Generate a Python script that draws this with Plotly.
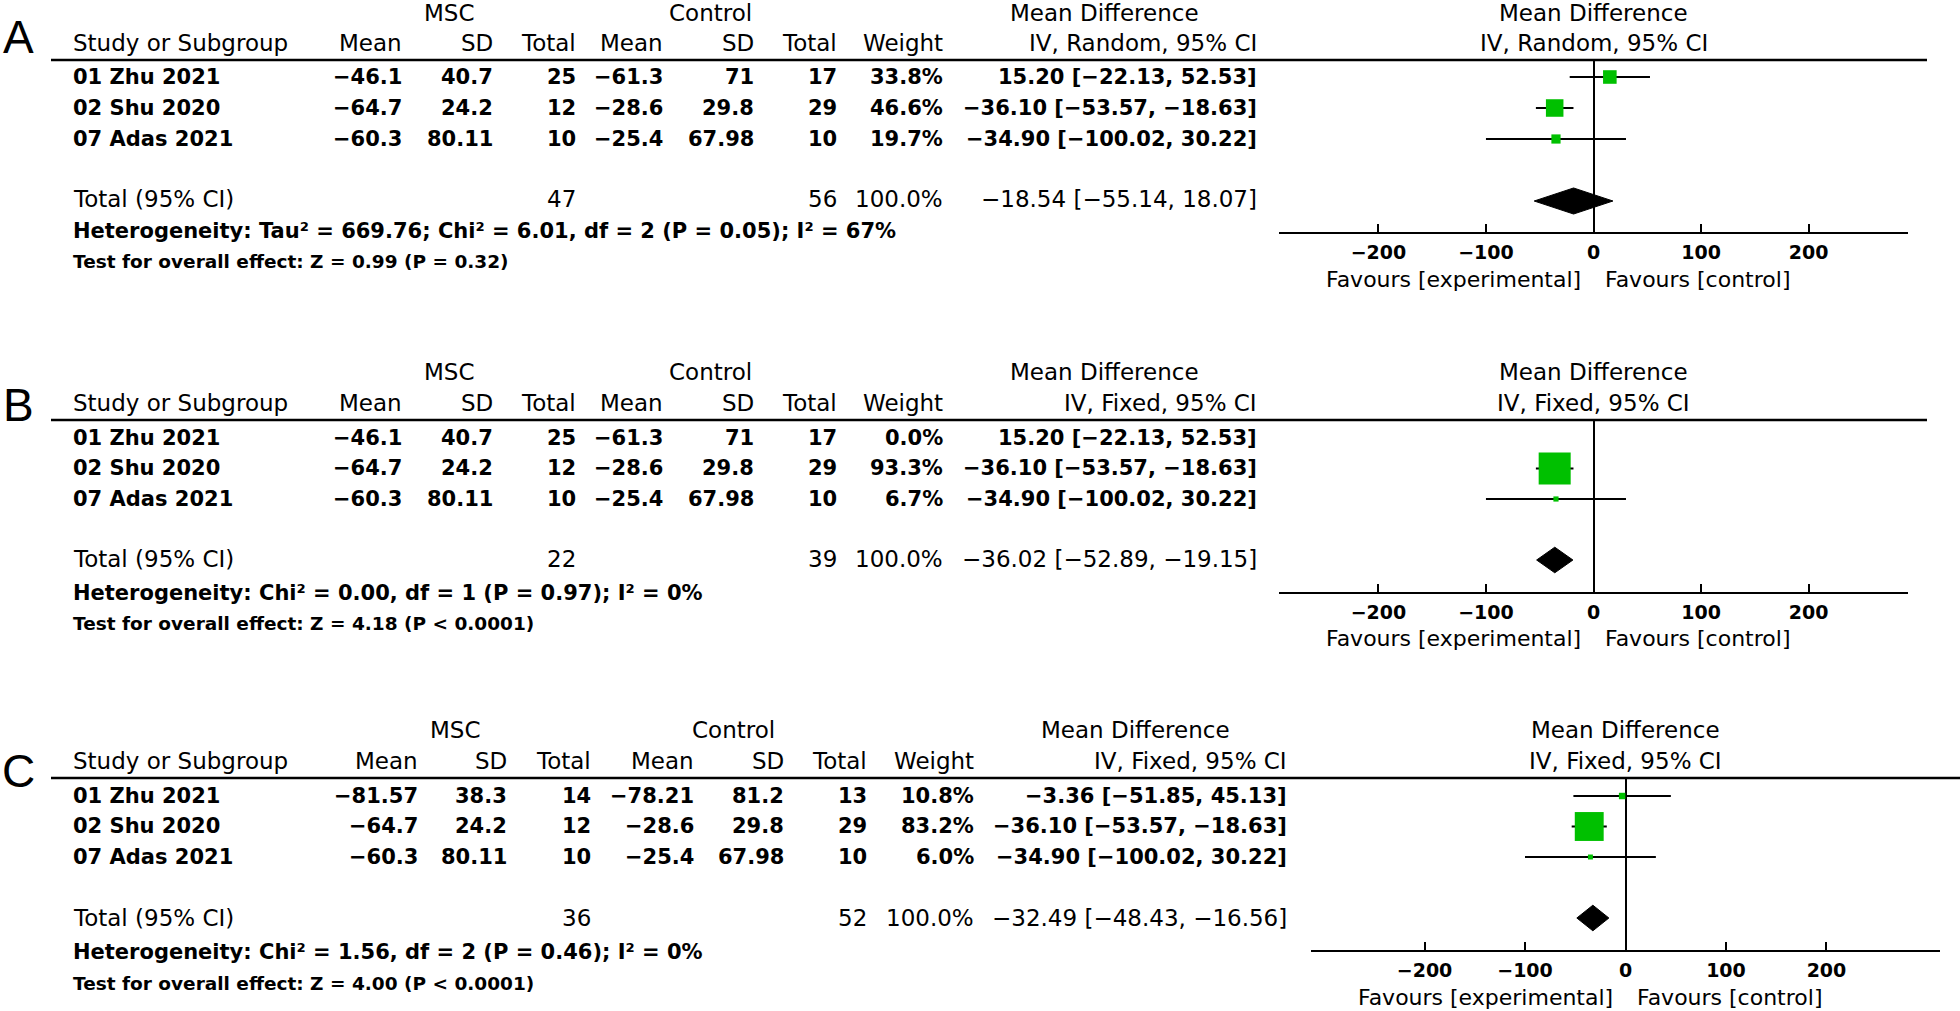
import plotly.graph_objects as go

W, H = 1960, 1011
FONT = "DejaVu Sans"
GREEN = "#00c000"

# ---------------- data ----------------
studies = ["01 Zhu 2021", "02 Shu 2020", "07 Adas 2021"]

# Panel A  (IV, Random)
A_msc_mean = [-46.1, -64.7, -60.3]
A_msc_sd = [40.7, 24.2, 80.11]
A_msc_n = [25, 12, 10]
A_ctl_mean = [-61.3, -28.6, -25.4]
A_ctl_sd = [71, 29.8, 67.98]
A_ctl_n = [17, 29, 10]
A_weight = [33.8, 46.6, 19.7]
A_md = [15.20, -36.10, -34.90]
A_lo = [-22.13, -53.57, -100.02]
A_hi = [52.53, -18.63, 30.22]
A_total_n = [47, 56]
A_total_ci = [-18.54, -55.14, 18.07]
A_het = "Heterogeneity: Tau² = 669.76; Chi² = 6.01, df = 2 (P = 0.05); I² = 67%"
A_test = "Test for overall effect: Z = 0.99 (P = 0.32)"

# Panel B  (IV, Fixed)
B_msc_mean = [-46.1, -64.7, -60.3]
B_msc_sd = [40.7, 24.2, 80.11]
B_msc_n = [25, 12, 10]
B_ctl_mean = [-61.3, -28.6, -25.4]
B_ctl_sd = [71, 29.8, 67.98]
B_ctl_n = [17, 29, 10]
B_weight = [0.0, 93.3, 6.7]
B_md = [15.20, -36.10, -34.90]
B_lo = [-22.13, -53.57, -100.02]
B_hi = [52.53, -18.63, 30.22]
B_total_n = [22, 39]
B_total_ci = [-36.02, -52.89, -19.15]
B_het = "Heterogeneity: Chi² = 0.00, df = 1 (P = 0.97); I² = 0%"
B_test = "Test for overall effect: Z = 4.18 (P < 0.0001)"

# Panel C  (IV, Fixed)
C_msc_mean = [-81.57, -64.7, -60.3]
C_msc_sd = [38.3, 24.2, 80.11]
C_msc_n = [14, 12, 10]
C_ctl_mean = [-78.21, -28.6, -25.4]
C_ctl_sd = [81.2, 29.8, 67.98]
C_ctl_n = [13, 29, 10]
C_weight = [10.8, 83.2, 6.0]
C_md = [-3.36, -36.10, -34.90]
C_lo = [-51.85, -53.57, -100.02]
C_hi = [45.13, -18.63, 30.22]
C_total_n = [36, 52]
C_total_ci = [-32.49, -48.43, -16.56]
C_het = "Heterogeneity: Chi² = 1.56, df = 2 (P = 0.46); I² = 0%"
C_test = "Test for overall effect: Z = 4.00 (P < 0.0001)"

tick_vals = [-200, -100, 0, 100, 200]

panels = [
    dict(letter="A", model="IV, Random, 95% CI",
         msc_mean=A_msc_mean, msc_sd=A_msc_sd, msc_n=A_msc_n,
         ctl_mean=A_ctl_mean, ctl_sd=A_ctl_sd, ctl_n=A_ctl_n,
         weight=A_weight, md=A_md, lo=A_lo, hi=A_hi,
         total_n=A_total_n, total_ci=A_total_ci, het=A_het, test=A_test),
    dict(letter="B", model="IV, Fixed, 95% CI",
         msc_mean=B_msc_mean, msc_sd=B_msc_sd, msc_n=B_msc_n,
         ctl_mean=B_ctl_mean, ctl_sd=B_ctl_sd, ctl_n=B_ctl_n,
         weight=B_weight, md=B_md, lo=B_lo, hi=B_hi,
         total_n=B_total_n, total_ci=B_total_ci, het=B_het, test=B_test),
    dict(letter="C", model="IV, Fixed, 95% CI",
         msc_mean=C_msc_mean, msc_sd=C_msc_sd, msc_n=C_msc_n,
         ctl_mean=C_ctl_mean, ctl_sd=C_ctl_sd, ctl_n=C_ctl_n,
         weight=C_weight, md=C_md, lo=C_lo, hi=C_hi,
         total_n=C_total_n, total_ci=C_total_ci, het=C_het, test=C_test),
]

# ---------------- layout geometry (page pixels) ----------------
geoms = [
    dict(letter_y=37, grp=13, sub=43, top=60, rows=[77, 108, 139], total=199, het=231, test=262,
         axis=232, fav=279, xd=(1279, 1908), xr=292.5, line_end=1927,
         cols=[404, 495, 578, 665, 756, 839, 945, 1259], grp_x=[449, 710, 1104]),
    dict(letter_y=405, grp=372, sub=403, top=420, rows=[438, 468, 499], total=559, het=593, test=623,
         axis=592, fav=638, xd=(1279, 1908), xr=292.5, line_end=1927,
         cols=[404, 495, 578, 665, 756, 839, 945, 1259], grp_x=[449, 710, 1104]),
    dict(letter_y=771, grp=730, sub=761, top=778, rows=[796, 826, 857], total=918, het=952, test=983,
         axis=950, fav=997, xd=(1311, 1940), xr=313, line_end=1960,
         cols=[420, 509, 593, 696, 786, 869, 976, 1289], grp_x=[455, 733, 1135]),
]

LEFT = 71
REG = dict(family=FONT, size=23, color="black")
FAV = dict(family=FONT, size=22, color="black")
BOLD = dict(family=FONT, size=21, color="black", weight="bold")
HET = dict(family=FONT, size=21, color="black", weight="bold")
TEST = dict(family=FONT, size=18.5, color="black", weight="bold")


def px(x):
    return x / W


def py(y):
    return 1 - y / H


def num(v):
    return f"{v:g}".replace("-", "\u2212")


def ci(m, l, h):
    return f"{m:.2f} [{l:.2f}, {h:.2f}]".replace("-", "\u2212")


def ann(text, x, y, xanchor, font, xref="paper", xshift=0):
    return dict(text=text, x=(px(x) if xref == "paper" else x), y=py(y),
                xref=xref, yref="paper", xanchor=xanchor, yanchor="middle",
                showarrow=False, font=font, xshift=xshift)


fig = go.Figure()
annotations = []
shapes = []
layout_axes = {}

for k, (p, g) in enumerate(zip(panels, geoms), start=1):
    xa = "x" if k == 1 else f"x{k}"
    ya = "y" if k == 1 else f"y{k}"
    unit = (g["rows"][2] - g["rows"][0]) / 2
    y_top = 1 - (g["rows"][0] - g["top"]) / unit
    y_bot = 1 + (g["axis"] - g["rows"][0]) / unit
    row_idx = [1, 2, 3]
    total_idx = 5

    # study squares + CI lines (zero-weight studies are not drawn)
    xs, ys, sz, ep, em = [], [], [], [], []
    for i in range(len(studies)):
        if p["weight"][i] <= 0:
            continue
        xs.append(p["md"][i])
        ys.append(row_idx[i])
        sz.append(3.1 + 0.31 * p["weight"][i])
        ep.append(p["hi"][i] - p["md"][i])
        em.append(p["md"][i] - p["lo"][i])
    fig.add_trace(go.Scatter(
        x=xs, y=ys, mode="markers", xaxis=xa, yaxis=ya, showlegend=False,
        marker=dict(symbol="square", size=sz, color=GREEN, opacity=1, line=dict(width=0)),
        error_x=dict(type="data", symmetric=False, array=ep, arrayminus=em,
                     width=0, thickness=2, color="black"),
        hoverinfo="skip"))

    # pooled diamond
    est, lo, hi = p["total_ci"]
    h = 0.42
    fig.add_trace(go.Scatter(
        x=[lo, est, hi, est, lo], y=[total_idx, total_idx - h, total_idx, total_idx + h, total_idx],
        mode="lines", fill="toself", fillcolor="black", line=dict(color="black", width=1),
        xaxis=xa, yaxis=ya, showlegend=False, hoverinfo="skip"))

    layout_axes["xaxis" if k == 1 else f"xaxis{k}"] = dict(
        domain=[px(g["xd"][0]), px(g["xd"][1])], range=[-g["xr"], g["xr"]], anchor=ya,
        tickmode="array", tickvals=tick_vals, ticks="inside", ticklen=8, tickwidth=2,
        tickcolor="black", showline=True, linewidth=2, linecolor="black",
        zeroline=True, zerolinecolor="black", zerolinewidth=2, showgrid=False,
        ticklabelstandoff=2,
        tickfont=dict(family=FONT, size=19, color="black", weight="bold"), fixedrange=True)
    layout_axes["yaxis" if k == 1 else f"yaxis{k}"] = dict(
        domain=[py(g["axis"]), py(g["top"])], range=[y_bot, y_top], anchor=xa,
        visible=False, fixedrange=True)

    # panel letter
    annotations.append(ann(p["letter"], 18, g["letter_y"], "center",
                           dict(family="Liberation Sans", size=46, color="black")))
    # group headers
    annotations.append(ann("MSC", g["grp_x"][0], g["grp"], "center", REG))
    annotations.append(ann("Control", g["grp_x"][1], g["grp"], "center", REG))
    annotations.append(ann("Mean Difference", g["grp_x"][2], g["grp"], "center", REG))
    annotations.append(ann("Mean Difference", 0, g["grp"], "center", REG, xref=xa))
    # column headers
    annotations.append(ann("Study or Subgroup", LEFT, g["sub"], "left", REG))
    for txt, cx in zip(["Mean", "SD", "Total", "Mean", "SD", "Total", "Weight", p["model"]], g["cols"]):
        annotations.append(ann(txt, cx, g["sub"], "right", REG))
    annotations.append(ann(p["model"], 0, g["sub"], "center", REG, xref=xa))
    shapes.append(dict(type="line", xref="paper", yref="paper", x0=px(51), x1=px(g["line_end"]),
                       y0=py(g["top"]), y1=py(g["top"]), line=dict(color="black", width=2.5)))
    # study rows
    for i, s in enumerate(studies):
        y = g["rows"][i]
        cells = [num(p["msc_mean"][i]), num(p["msc_sd"][i]), str(p["msc_n"][i]),
                 num(p["ctl_mean"][i]), num(p["ctl_sd"][i]), str(p["ctl_n"][i]),
                 f"{p['weight'][i]:.1f}%", ci(p["md"][i], p["lo"][i], p["hi"][i])]
        annotations.append(ann(s, LEFT, y, "left", BOLD))
        for txt, cx in zip(cells, g["cols"]):
            annotations.append(ann(txt, cx, y, "right", BOLD))
    # total row
    annotations.append(ann("Total (95% CI)", LEFT, g["total"], "left", REG))
    annotations.append(ann(str(p["total_n"][0]), g["cols"][2], g["total"], "right", REG))
    annotations.append(ann(str(p["total_n"][1]), g["cols"][5], g["total"], "right", REG))
    annotations.append(ann("100.0%", g["cols"][6], g["total"], "right", REG))
    annotations.append(ann(ci(*p["total_ci"]), g["cols"][7], g["total"], "right", REG))
    annotations.append(ann(p["het"], LEFT, g["het"], "left", HET))
    annotations.append(ann(p["test"], LEFT, g["test"], "left", TEST))
    # favours labels
    annotations.append(ann("Favours [experimental]", 0, g["fav"], "right", FAV, xref=xa, xshift=-11))
    annotations.append(ann("Favours [control]", 0, g["fav"], "left", FAV, xref=xa, xshift=9))

fig.update_layout(
    width=W, height=H, autosize=False,
    margin=dict(l=0, r=0, t=0, b=0, pad=0),
    paper_bgcolor="white", plot_bgcolor="white",
    annotations=annotations, shapes=shapes, showlegend=False,
    **layout_axes)

# remove the default 8px page margin so the figure sits at the window's corner
fig.write_html("out.html", config={"displayModeBar": False},
               post_script="document.body.style.margin='0px';")
